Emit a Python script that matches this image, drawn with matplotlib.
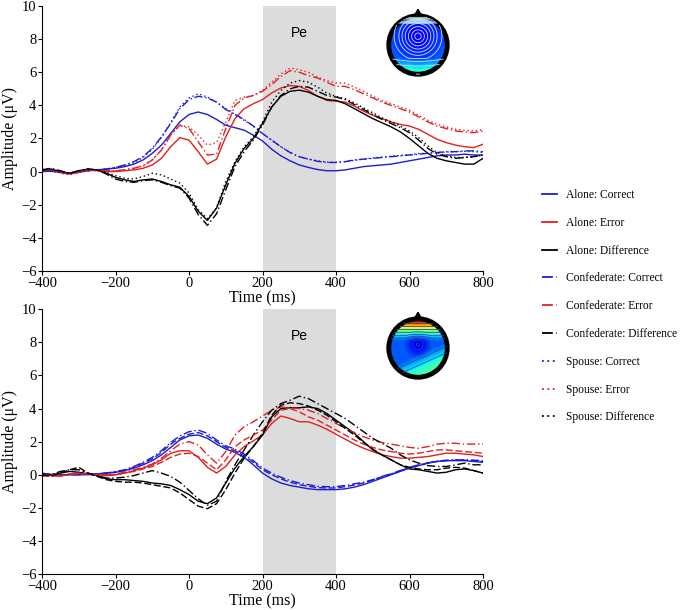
import numpy as np
import matplotlib
matplotlib.use("Agg")
import matplotlib.pyplot as plt
from matplotlib.lines import Line2D

plt.rcParams['font.family'] = ['Liberation Serif', 'DejaVu Serif']

# sample times (ms)
time = np.arange(-400, 801, 25)

# ----- upper panel -----
alone_correct_top = [0.00, 0.02, -0.05, -0.10, -0.05, 0.05, 0.10, 0.15, 0.20, 0.30,
                     0.45, 0.70, 1.10, 1.60, 2.30, 3.00, 3.45, 3.60, 3.45, 3.15,
                     2.80, 2.65, 2.50, 2.20, 1.85, 1.35, 0.95, 0.65, 0.40, 0.25,
                     0.12, 0.05, 0.05, 0.10, 0.20, 0.30, 0.35, 0.40, 0.45, 0.55,
                     0.65, 0.75, 0.85, 0.95, 1.00, 1.00, 1.05, 1.00, 1.00]
conf_correct_top = [0.00, 0.05, -0.05, -0.10, 0.00, 0.05, 0.10, 0.15, 0.25, 0.40,
                    0.60, 0.90, 1.40, 2.10, 2.90, 3.80, 4.35, 4.55, 4.45, 4.20,
                    3.75, 3.45, 3.15, 2.75, 2.30, 1.90, 1.50, 1.15, 0.90, 0.75,
                    0.62, 0.55, 0.55, 0.60, 0.70, 0.75, 0.80, 0.85, 0.90, 0.95,
                    1.00, 1.05, 1.10, 1.15, 1.20, 1.20, 1.25, 1.25, 1.20]
spouse_correct_top = [0.05, 0.00, -0.05, -0.15, -0.05, 0.05, 0.10, 0.15, 0.25, 0.35,
                      0.55, 0.85, 1.35, 2.05, 2.95, 3.90, 4.45, 4.70, 4.50, 4.20,
                      3.80, 3.45, 3.10, 2.75, 2.30, 1.90, 1.50, 1.15, 0.90, 0.75,
                      0.65, 0.58, 0.55, 0.60, 0.68, 0.75, 0.82, 0.88, 0.92, 0.98,
                      1.02, 1.08, 1.12, 1.15, 1.18, 1.20, 1.22, 1.20, 1.15]
alone_error_top = [0.05, 0.10, -0.05, -0.15, -0.05, 0.10, 0.05, 0.00, 0.00, 0.05,
                   0.10, 0.20, 0.40, 0.80, 1.50, 2.05, 1.90, 1.20, 0.45, 0.75,
                   2.10, 3.20, 3.80, 4.10, 4.35, 4.75, 5.05, 5.20, 5.15, 4.90,
                   4.55, 4.30, 4.25, 4.20, 3.95, 3.65, 3.40, 3.20, 3.00, 2.85,
                   2.75, 2.55, 2.25, 1.95, 1.75, 1.60, 1.50, 1.45, 1.65]
conf_error_top = [0.10, 0.15, 0.00, -0.15, 0.00, 0.10, 0.05, 0.05, 0.05, 0.10,
                  0.20, 0.35, 0.70, 1.30, 2.20, 2.80, 2.60, 1.80, 1.00, 1.05,
                  2.60, 4.00, 4.45, 4.60, 4.85, 5.25, 5.75, 6.10, 6.00, 5.80,
                  5.65, 5.40, 5.15, 5.15, 4.95, 4.70, 4.45, 4.20, 4.00, 3.80,
                  3.60, 3.30, 3.00, 2.75, 2.60, 2.45, 2.40, 2.35, 2.45]
spouse_error_top = [0.05, 0.10, -0.10, -0.20, -0.05, 0.10, 0.05, 0.00, 0.05, 0.10,
                    0.20, 0.35, 0.70, 1.30, 2.20, 2.80, 2.70, 2.20, 1.60, 1.75,
                    3.00, 4.30, 4.50, 4.60, 4.90, 5.40, 5.90, 6.25, 6.15, 6.00,
                    5.70, 5.50, 5.35, 5.35, 5.10, 4.85, 4.55, 4.30, 4.10, 3.90,
                    3.70, 3.40, 3.10, 2.85, 2.70, 2.55, 2.50, 2.45, 2.55]
alone_diff_top = [0.10, 0.15, 0.00, -0.10, 0.05, 0.15, 0.10, -0.10, -0.35, -0.50,
                  -0.60, -0.50, -0.45, -0.60, -0.80, -0.95, -1.50, -2.40, -2.95, -2.20,
                  -0.80, 0.50, 1.40, 2.00, 2.90, 3.90, 4.55, 4.85, 4.92, 4.80,
                  4.55, 4.35, 4.30, 4.10, 3.80, 3.50, 3.20, 2.95, 2.70, 2.40,
                  2.00, 1.55, 1.10, 0.80, 0.65, 0.55, 0.45, 0.45, 0.80]
conf_diff_top = [0.10, 0.20, 0.05, -0.10, 0.05, 0.15, 0.10, -0.15, -0.45, -0.60,
                 -0.65, -0.55, -0.50, -0.65, -0.85, -1.00, -1.60, -2.60, -3.25, -2.55,
                 -1.10, 0.30, 1.20, 1.90, 2.80, 3.90, 4.60, 5.00, 5.15, 5.10,
                 4.85, 4.60, 4.50, 4.35, 4.05, 3.75, 3.45, 3.15, 2.90, 2.65,
                 2.35, 1.90, 1.40, 1.05, 0.90, 0.80, 0.85, 0.90, 1.00]
spouse_diff_top = [0.15, 0.10, 0.00, -0.10, 0.05, 0.15, 0.10, -0.05, -0.25, -0.40,
                   -0.45, -0.30, -0.10, -0.20, -0.45, -0.70, -1.30, -2.30, -2.85, -2.20,
                   -0.60, 0.60, 1.50, 2.10, 3.00, 4.20, 4.90, 5.35, 5.50, 5.40,
                   5.10, 4.75, 4.55, 4.40, 4.15, 3.85, 3.55, 3.25, 3.00, 2.75,
                   2.45, 2.05, 1.55, 1.15, 0.95, 0.85, 0.85, 0.90, 1.00]

# ----- lower panel -----
alone_correct_bot = [0.00, 0.00, 0.00, 0.00, 0.00, 0.00, 0.05, 0.10, 0.15, 0.25,
                     0.40, 0.60, 0.85, 1.20, 1.65, 2.10, 2.35, 2.40, 2.20, 1.85,
                     1.55, 1.35, 1.05, 0.60, 0.10, -0.25, -0.50, -0.65, -0.75, -0.85,
                     -0.90, -0.90, -0.90, -0.85, -0.75, -0.60, -0.40, -0.20, 0.00, 0.20,
                     0.40, 0.55, 0.70, 0.80, 0.85, 0.85, 0.85, 0.80, 0.75]
conf_correct_bot = [0.00, 0.00, 0.00, 0.00, 0.00, 0.05, 0.05, 0.10, 0.20, 0.30,
                    0.50, 0.75, 1.05, 1.45, 1.95, 2.35, 2.60, 2.70, 2.50, 2.10,
                    1.75, 1.55, 1.25, 0.85, 0.40, 0.10, -0.15, -0.35, -0.50, -0.60,
                    -0.70, -0.72, -0.72, -0.65, -0.55, -0.45, -0.30, -0.10, 0.05, 0.25,
                    0.45, 0.60, 0.72, 0.82, 0.88, 0.90, 0.90, 0.88, 0.85]
spouse_correct_bot = [0.05, 0.05, 0.00, 0.00, 0.00, 0.05, 0.05, 0.10, 0.15, 0.25,
                      0.45, 0.70, 0.95, 1.35, 1.85, 2.20, 2.45, 2.55, 2.35, 2.00,
                      1.65, 1.45, 1.15, 0.75, 0.30, 0.00, -0.25, -0.45, -0.60, -0.70,
                      -0.78, -0.80, -0.80, -0.72, -0.62, -0.50, -0.32, -0.12, 0.05, 0.25,
                      0.42, 0.58, 0.70, 0.80, 0.85, 0.88, 0.88, 0.85, 0.80]
alone_error_bot = [-0.10, -0.05, -0.10, 0.05, 0.10, 0.05, 0.00, -0.05, 0.00, 0.10,
                   0.25, 0.40, 0.60, 0.90, 1.30, 1.45, 1.45, 1.05, 0.45, 0.10,
                   0.50, 1.20, 1.70, 2.05, 2.40, 3.10, 3.55, 3.40, 3.20, 3.20,
                   3.00, 2.75, 2.45, 2.15, 1.85, 1.60, 1.40, 1.20, 1.10, 1.00,
                   1.00, 1.05, 1.10, 1.20, 1.30, 1.30, 1.25, 1.20, 1.10]
conf_error_bot = [0.00, 0.05, -0.05, 0.05, 0.10, 0.05, 0.00, 0.00, 0.05, 0.15,
                  0.30, 0.45, 0.65, 1.00, 1.45, 1.85, 2.00, 1.80, 1.20, 0.70,
                  1.40, 2.40, 2.90, 3.20, 3.55, 3.90, 4.10, 4.05, 4.00, 3.90,
                  3.70, 3.40, 3.10, 2.80, 2.55, 2.30, 2.10, 1.95, 1.85, 1.75,
                  1.65, 1.60, 1.70, 1.85, 1.90, 1.90, 1.85, 1.85, 1.85]
spouse_error_bot = [-0.05, 0.00, -0.05, 0.00, 0.05, 0.05, 0.00, -0.05, 0.00, 0.10,
                    0.20, 0.35, 0.50, 0.75, 1.05, 1.25, 1.30, 1.10, 0.70, 0.30,
                    0.90, 1.70, 2.10, 2.40, 2.70, 3.30, 3.90, 4.00, 3.80, 3.50,
                    3.30, 3.00, 2.70, 2.40, 2.10, 1.85, 1.65, 1.50, 1.40, 1.30,
                    1.25, 1.30, 1.40, 1.50, 1.50, 1.45, 1.40, 1.35, 1.30]
alone_diff_bot = [0.05, 0.00, 0.10, 0.20, 0.15, 0.05, -0.05, -0.25, -0.30, -0.30,
                  -0.35, -0.40, -0.50, -0.55, -0.65, -0.90, -1.20, -1.60, -1.75, -1.40,
                  -0.50, 0.40, 1.10, 1.70, 2.40, 3.50, 4.00, 4.05, 4.05, 4.10,
                  4.00, 3.70, 3.30, 2.90, 2.50, 2.00, 1.50, 1.20, 0.90, 0.60,
                  0.35, 0.30, 0.20, 0.10, 0.15, 0.30, 0.35, 0.25, 0.10]
conf_diff_bot = [0.10, 0.00, 0.20, 0.30, 0.30, 0.10, -0.05, -0.20, -0.20, -0.15,
                 -0.05, 0.10, 0.25, 0.10, -0.10, -0.45, -0.95, -1.45, -1.85, -1.60,
                 -0.40, 0.60, 1.50, 2.40, 3.20, 3.90, 4.30, 4.50, 4.75, 4.60,
                 4.30, 4.00, 3.70, 3.40, 3.00, 2.60, 2.20, 1.90, 1.60, 1.20,
                 0.90, 0.70, 0.55, 0.50, 0.50, 0.60, 0.70, 0.60, 0.60]
spouse_diff_bot = [0.00, -0.10, 0.10, 0.30, 0.45, 0.10, -0.10, -0.30, -0.40, -0.45,
                   -0.45, -0.50, -0.60, -0.70, -0.80, -1.10, -1.50, -1.90, -2.05, -1.75,
                   -0.90, 0.10, 1.00, 1.70, 2.50, 3.60, 4.20, 4.35, 4.30, 4.15,
                   3.90, 3.60, 3.20, 2.80, 2.40, 1.95, 1.55, 1.20, 0.90, 0.60,
                   0.45, 0.35, 0.30, 0.30, 0.40, 0.45, 0.40, 0.25, 0.10]

legend_labels = ["Alone: Correct", "Alone: Error", "Alone: Difference",
                 "Confederate: Correct", "Confederate: Error", "Confederate: Difference",
                 "Spouse: Correct", "Spouse: Error", "Spouse: Difference"]

pe_window = (200, 400)

BLUE = "#1c1cd6"
RED = "#e3201e"
BLACK = "#000000"
DASHDOT = (0, (6, 2, 1, 2))
DOTTED = (0, (1, 2))
DASHED = (0, (5, 2))

fig = plt.figure(figsize=(6.8, 6.1), dpi=100)
ax1 = fig.add_axes([0.0618, 0.556, 0.6485, 0.434])
ax2 = fig.add_axes([0.0618, 0.059, 0.6485, 0.434])

top_series = [
    (alone_correct_top, BLUE, "-"), (alone_error_top, RED, "-"), (alone_diff_top, BLACK, "-"),
    (conf_correct_top, BLUE, DASHDOT), (conf_error_top, RED, DASHDOT), (conf_diff_top, BLACK, DASHDOT),
    (spouse_correct_top, BLUE, DOTTED), (spouse_error_top, RED, DOTTED), (spouse_diff_top, BLACK, DOTTED),
]
bot_series = [
    (alone_correct_bot, BLUE, "-"), (alone_error_bot, RED, "-"), (alone_diff_bot, BLACK, "-"),
    (conf_correct_bot, BLUE, DASHDOT), (conf_error_bot, RED, DASHDOT), (conf_diff_bot, BLACK, DASHDOT),
    (spouse_correct_bot, BLUE, DASHED), (spouse_error_bot, RED, DASHED), (spouse_diff_bot, BLACK, DASHED),
]

for ax, series in [(ax1, top_series), (ax2, bot_series)]:
    ax.axvspan(pe_window[0], pe_window[1], color="#dcdcdc", lw=0, zorder=0)
    for vals, col, ls in series:
        ax.plot(time, vals, color=col, linestyle=ls, lw=1.0, zorder=2)
    ax.text(300, 8.4, "Pe", ha="center", va="center", fontsize=10,
            family=["Liberation Sans", "DejaVu Sans"])
    ax.set_xlim(-400, 800)
    ax.set_ylim(-6, 10)
    ax.set_xticks(np.arange(-400, 801, 200))
    ax.set_yticks(np.arange(-6, 11, 2))
    ax.spines["top"].set_visible(False)
    ax.spines["right"].set_visible(False)
    ax.tick_params(direction="out", length=3, width=0.8, labelsize=10.5)
    ax.tick_params(axis="x", pad=1.5)
    ax.tick_params(axis="y", pad=1)
    ax.set_xlabel("Time (ms)", fontsize=11.5, labelpad=0)
    ax.set_ylabel("Amplitude (μV)", fontsize=11.5, labelpad=2)

# ----- scalp maps -----
g = np.linspace(-1.05, 1.05, 240)
GX, GY = np.meshgrid(g, g)
R = np.sqrt(GX ** 2 + GY ** 2)

# upper map: broad blue negativity with rings, thin positive band at the front
rc_top = np.sqrt(GX ** 2 + (GY - 0.3) ** 2)
topo_top = (0.10 + 0.11 * np.clip(rc_top, 0, 1.2)
            + 0.80 * np.clip((GY - 0.74) / 0.26, 0, 1) ** 1.4
            + 0.22 * np.clip((-GY - 0.45) / 0.55, 0, 1))
lines_top = [0.112, 0.124, 0.136, 0.148, 0.160, 0.172, 0.19, 0.24, 0.32, 0.45, 0.6, 0.75]
# lower map: dark centre, warm frontal gradient, cyan lower right
rc_bot = np.sqrt(GX ** 2 + (GY - 0.12) ** 2)
topo_bot = (0.02 + 0.19 * np.clip(rc_bot / 0.5, 0, 1) ** 0.6
            + 0.80 * np.clip((GY - 0.25) / 0.75, 0, 1) ** 1.3
            + 0.22 * np.clip((0.45 * GX - GY - 0.25) / 0.6, 0, 1))
lines_bot = [0.07, 0.12, 0.19, 0.26, 0.34, 0.44, 0.56, 0.68, 0.8]


def draw_head(rect, field, line_col, levels):
    axh = fig.add_axes(rect)
    z = np.where(R <= 1.0, field, np.nan)
    axh.contourf(GX, GY, z, levels=np.linspace(0, 1, 60), cmap="jet", vmin=0, vmax=1)
    axh.contour(GX, GY, z, levels=levels, colors=line_col, linewidths=0.6)
    axh.add_patch(plt.Circle((0, 0), 1.0, fill=False, lw=3.5, color="black"))
    axh.fill([-0.13, 0, 0.13], [0.99, 1.22, 0.99], color="black")
    axh.set_xlim(-1.3, 1.3)
    axh.set_ylim(-1.3, 1.3)
    axh.set_aspect("equal")
    axh.axis("off")


draw_head([(418 - 38) / 680, 1 - (45 + 38) / 610, 76 / 680, 76 / 610], topo_top, "#d8dcff", lines_top)
draw_head([(418 - 38) / 680, 1 - (348 + 38) / 610, 76 / 680, 76 / 610], topo_bot, "#2a44a8", lines_bot)

# ----- legend -----
styles = ["-", "-", "-", DASHDOT, DASHDOT, DASHDOT, DOTTED, DOTTED, DOTTED]
colors = [BLUE, RED, BLACK] * 3
handles = [Line2D([], [], color=c, linestyle=s, lw=1.3) for c, s in zip(colors, styles)]
fig.legend(handles, legend_labels, loc="upper left", bbox_to_anchor=(0.797, 0.690),
           frameon=False, fontsize=8.3, handlelength=1.3, handletextpad=0.8,
           labelspacing=1.37, borderpad=0, borderaxespad=0)

fig.savefig("out.png", dpi=100)
